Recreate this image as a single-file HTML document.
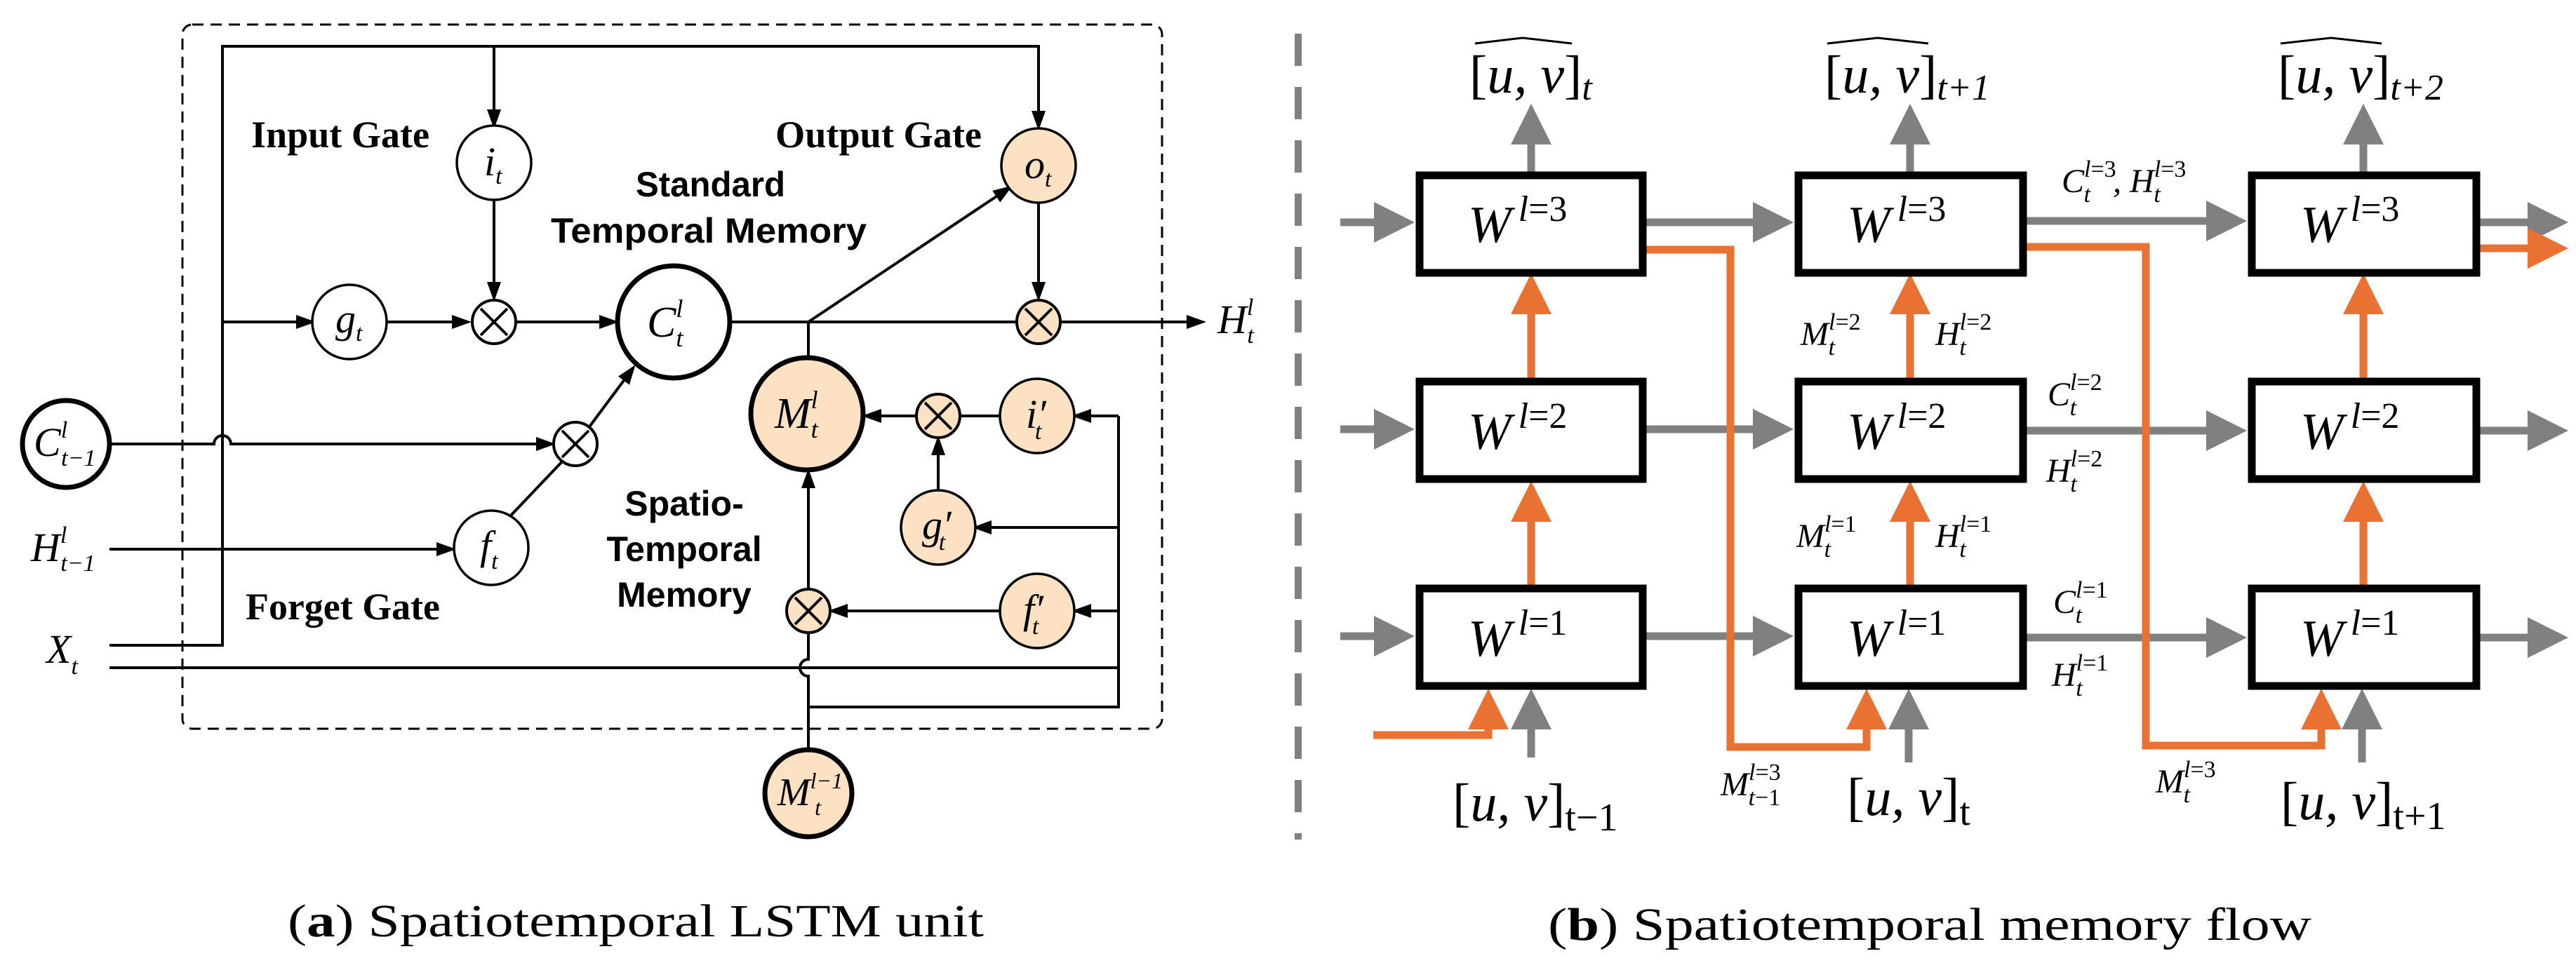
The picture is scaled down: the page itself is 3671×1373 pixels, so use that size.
<!DOCTYPE html>
<html><head><meta charset="utf-8"><style>
html,body{margin:0;padding:0;background:#fff;}
svg{display:block;}
.m{font-family:"Liberation Serif",serif;font-style:italic;}
.gb{font-family:"Liberation Serif",serif;font-weight:bold;}
.sb{font-family:"Liberation Sans",sans-serif;font-weight:bold;}
</style></head><body>
<svg width="3671" height="1373" viewBox="0 0 3671 1373" xmlns="http://www.w3.org/2000/svg">
<defs>
<marker id="ab" markerUnits="userSpaceOnUse" viewBox="0 0 28 20" refX="22" refY="10" markerWidth="28" markerHeight="20" orient="auto"><path d="M0,0 L28,10 L0,20 z" fill="#000"/></marker>
<marker id="ag" markerUnits="userSpaceOnUse" viewBox="0 0 58 58" refX="28" refY="29" markerWidth="58" markerHeight="58" orient="auto"><path d="M0,0 L58,29 L0,58 z" fill="#808080"/></marker>
<marker id="ao" markerUnits="userSpaceOnUse" viewBox="0 0 58 58" refX="28" refY="29" markerWidth="58" markerHeight="58" orient="auto"><path d="M0,0 L58,29 L0,58 z" fill="#E97132"/></marker>
</defs>

<!-- ===== LEFT PANEL ===== -->
<rect x="260" y="35" width="1396" height="1004" rx="14" fill="none" stroke="#000" stroke-width="3" stroke-dasharray="16 10"/>
<g fill="none" stroke="#000" stroke-width="4">
<path d="M156,920 H317 V66 H1480 V180" marker-end="url(#ab)"/>
<path d="M704,66 V178" marker-end="url(#ab)"/>
<path d="M317,459 H444" marker-end="url(#ab)"/>
<path d="M552,459 H666" marker-end="url(#ab)"/>
<path d="M704,285 V424" marker-end="url(#ab)"/>
<path d="M734,459 H876" marker-end="url(#ab)"/>
<path d="M1040,459 H1713" marker-end="url(#ab)"/>
<path d="M1480,288 V424" marker-end="url(#ab)"/>
<path d="M1152,459 L1438,268" marker-end="url(#ab)"/>
<path d="M1152,459 V510"/>
<path d="M1305,593 H1234" marker-end="url(#ab)"/>
<path d="M1369,593 H1426"/>
<path d="M1337,700 V627" marker-end="url(#ab)"/>
<path d="M1428,871 H1186" marker-end="url(#ab)"/>
<path d="M1152,839 V674" marker-end="url(#ab)"/>
<path d="M1594,593 V1008 H1152"/>
<path d="M1594,593 H1533" marker-end="url(#ab)"/>
<path d="M1594,752 H1391" marker-end="url(#ab)"/>
<path d="M1594,871 H1533" marker-end="url(#ab)"/>
<path d="M156,952 H1594"/>
<path d="M1152,1069 V964 a12,12 0 0 1 0,-24 V903"/>
<path d="M156,633 H305 a12,12 0 0 1 24,0 H786" marker-end="url(#ab)"/>
<path d="M838,611 L902,525" marker-end="url(#ab)"/>
<path d="M726,737 L804,655"/>
<path d="M156,783 H644" marker-end="url(#ab)"/>
</g>
<g stroke="#000" stroke-width="3.5" fill="#fff">
<circle cx="704" cy="232" r="53"/>
<circle cx="498" cy="459" r="53"/>
<circle cx="700" cy="781" r="53"/>
<circle cx="1480" cy="236" r="53" fill="#FDE1C3"/>
<circle cx="1478" cy="593" r="53" fill="#FDE1C3"/>
<circle cx="1337" cy="752" r="53" fill="#FDE1C3"/>
<circle cx="1478" cy="871" r="53" fill="#FDE1C3"/>
</g>
<g stroke="#000" stroke-width="7">
<circle cx="960" cy="459" r="80" fill="#fff"/>
<circle cx="1150" cy="590" r="80" fill="#FDE1C3"/>
<circle cx="94" cy="633" r="62" fill="#fff"/>
<circle cx="1152" cy="1131" r="62" fill="#FDE1C3"/>
</g>
<g stroke="#000" stroke-width="4">
<g transform="translate(704,459)"><circle r="31" fill="#fff"/><path d="M-19,-19 L19,19 M19,-19 L-19,19"/></g>
<g transform="translate(820,633)"><circle r="31" fill="#fff"/><path d="M-19,-19 L19,19 M19,-19 L-19,19"/></g>
<g transform="translate(1480,459)"><circle r="31" fill="#FDE1C3"/><path d="M-19,-19 L19,19 M19,-19 L-19,19"/></g>
<g transform="translate(1337,593)"><circle r="31" fill="#FDE1C3"/><path d="M-19,-19 L19,19 M19,-19 L-19,19"/></g>
<g transform="translate(1152,871)"><circle r="31" fill="#FDE1C3"/><path d="M-19,-19 L19,19 M19,-19 L-19,19"/></g>
</g>
<g class="m" fill="#000">
<text x="690" y="250" font-size="58">i<tspan font-size="34" dy="12">t</tspan></text>
<text x="1460" y="254" font-size="58">o<tspan font-size="34" dy="12">t</tspan></text>
<text x="478" y="474" font-size="58">g<tspan font-size="34" dy="12">t</tspan></text>
<text x="684" y="797" font-size="58">f<tspan font-size="34" dy="14">t</tspan></text>
<text x="1462" y="610" font-size="58">i′<tspan font-size="34" dx="-16" dy="16">t</tspan></text>
<text x="1314" y="768" font-size="58">g′<tspan font-size="34" dx="-18" dy="16">t</tspan></text>
<text x="1458" y="888" font-size="58">f′<tspan font-size="34" dx="-16" dy="16">t</tspan></text>
<text x="922" y="480" font-size="62">C<tspan font-size="36" dy="-28">l</tspan><tspan font-size="36" dx="-10" dy="42">t</tspan></text>
<text x="1104" y="610" font-size="62">M<tspan font-size="36" dy="-28">l</tspan><tspan font-size="36" dx="-10" dy="42">t</tspan></text>
<text x="1108" y="1148" font-size="56">M<tspan font-size="32" dy="-24">l−1</tspan><tspan font-size="32" dx="-40" dy="38">t</tspan></text>
<text x="48" y="650" font-size="58">C<tspan font-size="34" dy="-26">l</tspan><tspan font-size="34" dx="-9" dy="40">t−1</tspan></text>
<text x="44" y="800" font-size="58">H<tspan font-size="34" dy="-26">l</tspan><tspan font-size="34" dx="-9" dy="40">t−1</tspan></text>
<text x="66" y="945" font-size="58">X<tspan font-size="34" dy="16">t</tspan></text>
<text x="1735" y="475" font-size="58">H<tspan font-size="34" dy="-26">l</tspan><tspan font-size="34" dx="-9" dy="40">t</tspan></text>
</g>
<g class="gb" fill="#000" font-size="54">
<text x="358" y="210" textLength="254" lengthAdjust="spacingAndGlyphs">Input Gate</text>
<text x="1105" y="210" textLength="294" lengthAdjust="spacingAndGlyphs">Output Gate</text>
<text x="350" y="883" textLength="277" lengthAdjust="spacingAndGlyphs">Forget Gate</text>
</g>
<g class="sb" fill="#000" font-size="50">
<text x="906" y="280" textLength="213" lengthAdjust="spacingAndGlyphs">Standard</text>
<text x="785" y="346" textLength="450" lengthAdjust="spacingAndGlyphs">Temporal Memory</text>
<text x="975" y="735" text-anchor="middle">Spatio-</text>
<text x="975" y="800" text-anchor="middle">Temporal</text>
<text x="975" y="865" text-anchor="middle">Memory</text>
</g>
<text x="410" y="1335" font-family="Liberation Serif,serif" font-size="66" textLength="992" lengthAdjust="spacingAndGlyphs">(<tspan font-weight="bold">a</tspan>) Spatiotemporal LSTM unit</text>

<!-- ===== RIGHT PANEL ===== -->
<line x1="1850" y1="48" x2="1850" y2="1197" stroke="#808080" stroke-width="10" stroke-dasharray="46 30"/>
<g stroke="#808080" stroke-width="11" fill="none" marker-end="url(#ag)">
<path d="M1910,317 H1986"/><path d="M1910,612 H1986"/><path d="M1910,907 H1986"/>
<path d="M2346,317 H2526"/><path d="M2346,612 H2526"/><path d="M2346,907 H2526"/>
<path d="M2888,315 H3172"/><path d="M2888,614 H3172"/><path d="M2888,909 H3172"/>
<path d="M3534,317 H3630"/><path d="M3534,614 H3630"/><path d="M3534,909 H3630"/>
<path d="M2182,245 V178"/><path d="M2722,245 V178"/><path d="M3368,245 V178"/>
<path d="M2182,1080 V1012"/><path d="M2720,1087 V1012"/><path d="M3366,1087 V1012"/>
</g>
<g stroke="#E97132" stroke-width="11" fill="none" marker-end="url(#ao)">
<path d="M2182,539 V420"/><path d="M2182,834 V716"/>
<path d="M2722,539 V420"/><path d="M2722,834 V716"/>
<path d="M3368,539 V420"/><path d="M3368,834 V716"/>
<path d="M1957,1048 H2121 V1012"/>
<path d="M2346,356 H2466 V1065 H2660 V1012"/>
<path d="M2888,352 H3058 V1063 H3308 V1012"/>
<path d="M3534,354 H3630"/>
</g>
<g fill="#fff" stroke="#000" stroke-width="11">
<rect x="2023" y="250" width="318" height="139"/>
<rect x="2023" y="544" width="318" height="139"/>
<rect x="2023" y="839" width="318" height="139"/>
<rect x="2563" y="250" width="320" height="139"/>
<rect x="2563" y="544" width="320" height="139"/>
<rect x="2563" y="839" width="320" height="139"/>
<rect x="3209" y="250" width="320" height="139"/>
<rect x="3209" y="544" width="320" height="139"/>
<rect x="3209" y="839" width="320" height="139"/>
</g>
<g class="m" fill="#000">
<g font-size="74">
<text x="2092" y="345">W<tspan font-size="52" font-style="normal" dx="10" dy="-30"><tspan font-style="italic">l</tspan>=3</tspan></text>
<text x="2092" y="640">W<tspan font-size="52" font-style="normal" dx="10" dy="-30"><tspan font-style="italic">l</tspan>=2</tspan></text>
<text x="2092" y="935">W<tspan font-size="52" font-style="normal" dx="10" dy="-30"><tspan font-style="italic">l</tspan>=1</tspan></text>
<text x="2632" y="345">W<tspan font-size="52" font-style="normal" dx="10" dy="-30"><tspan font-style="italic">l</tspan>=3</tspan></text>
<text x="2632" y="640">W<tspan font-size="52" font-style="normal" dx="10" dy="-30"><tspan font-style="italic">l</tspan>=2</tspan></text>
<text x="2632" y="935">W<tspan font-size="52" font-style="normal" dx="10" dy="-30"><tspan font-style="italic">l</tspan>=1</tspan></text>
<text x="3278" y="345">W<tspan font-size="52" font-style="normal" dx="10" dy="-30"><tspan font-style="italic">l</tspan>=3</tspan></text>
<text x="3278" y="640">W<tspan font-size="52" font-style="normal" dx="10" dy="-30"><tspan font-style="italic">l</tspan>=2</tspan></text>
<text x="3278" y="935">W<tspan font-size="52" font-style="normal" dx="10" dy="-30"><tspan font-style="italic">l</tspan>=1</tspan></text>
</g>
<g font-size="76">
<text x="2094" y="132"><tspan font-style="normal">[</tspan>u, v<tspan font-style="normal">]</tspan><tspan font-size="52" dy="10">t</tspan></text>
<text x="2600" y="132"><tspan font-style="normal">[</tspan>u, v<tspan font-style="normal">]</tspan><tspan font-size="52" dy="10">t+1</tspan></text>
<text x="3246" y="132"><tspan font-style="normal">[</tspan>u, v<tspan font-style="normal">]</tspan><tspan font-size="52" dy="10">t+2</tspan></text>
<text x="2070" y="1170"><tspan font-style="normal">[</tspan>u, v<tspan font-style="normal">]</tspan><tspan font-size="56" font-style="normal" dy="14">t−1</tspan></text>
<text x="2632" y="1162"><tspan font-style="normal">[</tspan>u, v<tspan font-style="normal">]</tspan><tspan font-size="56" font-style="normal" dy="14">t</tspan></text>
<text x="3250" y="1168"><tspan font-style="normal">[</tspan>u, v<tspan font-style="normal">]</tspan><tspan font-size="56" font-style="normal" dy="14">t+1</tspan></text>
</g>
<g font-size="48">
<text x="2938" y="274">C<tspan font-size="34" dy="-22">l<tspan font-style="normal">=3</tspan></tspan><tspan font-size="34" dx="-46" dy="36">t</tspan><tspan dx="32" dy="-14">, H</tspan><tspan font-size="34" dy="-22">l<tspan font-style="normal">=3</tspan></tspan><tspan font-size="34" dx="-46" dy="36">t</tspan></text>
<text x="2566" y="492">M<tspan font-size="34" dy="-22">l<tspan font-style="normal">=2</tspan></tspan><tspan font-size="34" dx="-46" dy="36">t</tspan></text>
<text x="2758" y="492">H<tspan font-size="34" dy="-22">l<tspan font-style="normal">=2</tspan></tspan><tspan font-size="34" dx="-46" dy="36">t</tspan></text>
<text x="2918" y="578">C<tspan font-size="34" dy="-22">l<tspan font-style="normal">=2</tspan></tspan><tspan font-size="34" dx="-46" dy="36">t</tspan></text>
<text x="2916" y="687">H<tspan font-size="34" dy="-22">l<tspan font-style="normal">=2</tspan></tspan><tspan font-size="34" dx="-46" dy="36">t</tspan></text>
<text x="2560" y="780">M<tspan font-size="34" dy="-22">l<tspan font-style="normal">=1</tspan></tspan><tspan font-size="34" dx="-46" dy="36">t</tspan></text>
<text x="2758" y="780">H<tspan font-size="34" dy="-22">l<tspan font-style="normal">=1</tspan></tspan><tspan font-size="34" dx="-46" dy="36">t</tspan></text>
<text x="2926" y="874">C<tspan font-size="34" dy="-22">l<tspan font-style="normal">=1</tspan></tspan><tspan font-size="34" dx="-46" dy="36">t</tspan></text>
<text x="2924" y="978">H<tspan font-size="34" dy="-22">l<tspan font-style="normal">=1</tspan></tspan><tspan font-size="34" dx="-46" dy="36">t</tspan></text>
<text x="2452" y="1134">M<tspan font-size="34" dy="-22">l<tspan font-style="normal">=3</tspan></tspan><tspan font-size="34" dx="-46" dy="36">t<tspan font-style="normal">−1</tspan></tspan></text>
<text x="3072" y="1130">M<tspan font-size="34" dy="-22">l<tspan font-style="normal">=3</tspan></tspan><tspan font-size="34" dx="-46" dy="36">t</tspan></text>
</g>
</g>
<g fill="none" stroke="#000" stroke-width="3">
<path d="M2102,62 L2170,54 L2240,62"/>
<path d="M2604,62 L2676,54 L2748,62"/>
<path d="M3250,62 L3322,54 L3394,62"/>
</g>
<text x="2206" y="1340" font-family="Liberation Serif,serif" font-size="66" textLength="1088" lengthAdjust="spacingAndGlyphs">(<tspan font-weight="bold">b</tspan>) Spatiotemporal memory flow</text>
</svg>
</body></html>
